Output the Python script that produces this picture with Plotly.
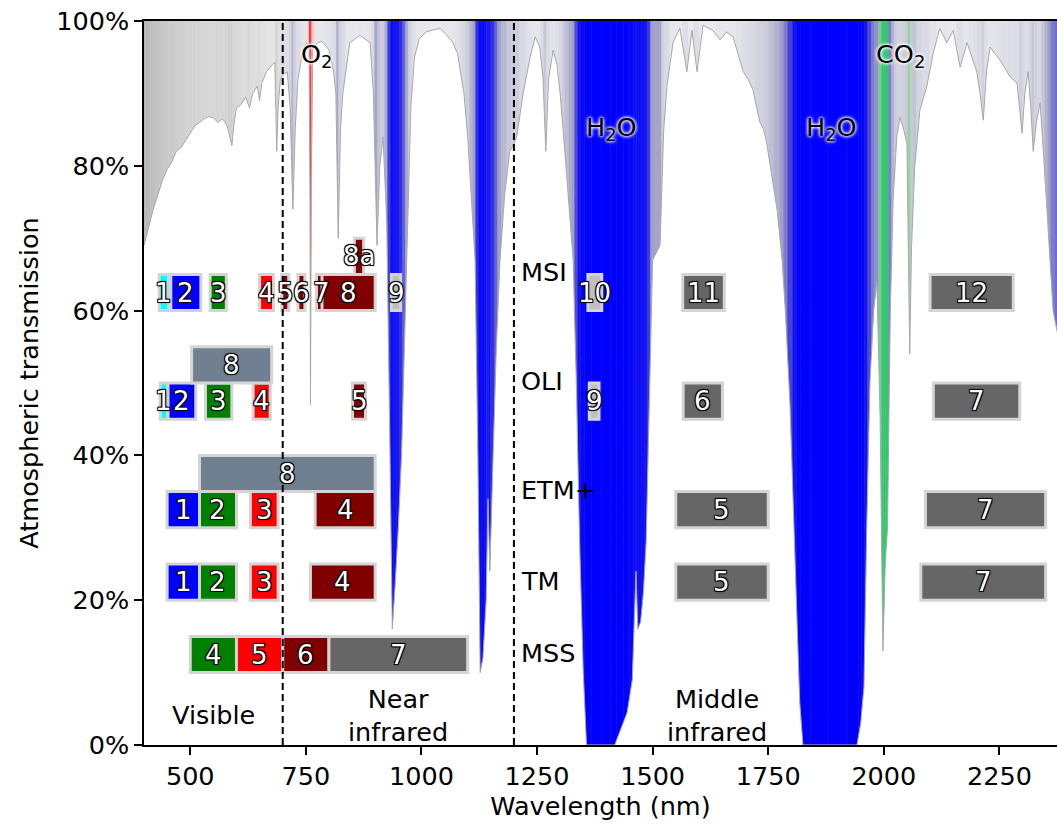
import plotly.graph_objects as go

# ---------------- data ----------------
WAVELENGTH = [400, 410, 420, 430, 440, 450, 460, 470, 480, 490, 500, 510, 520, 530, 540, 550, 560, 570, 580, 585,
              590, 595, 600, 610, 620, 628, 635, 645, 650, 655, 665, 675, 683, 687, 690, 695, 700, 710, 716, 722,
              727, 733, 744, 752, 757, 759, 760, 762, 765, 775, 785, 800, 810, 815, 820, 825, 830, 845, 867, 889,
              896, 904, 910, 917, 925, 931, 937, 943, 950, 957, 963, 970, 977, 985, 995, 1010, 1025, 1040, 1055, 1068,
              1078, 1085, 1092, 1100, 1108, 1116, 1122, 1127, 1133, 1140, 1144, 1148, 1155, 1162, 1170, 1180, 1191, 1200, 1206, 1220,
              1235, 1246, 1256, 1263, 1269, 1275, 1285, 1293, 1300, 1308, 1315, 1322, 1328, 1335, 1342, 1350, 1357, 1380, 1400, 1418,
              1430, 1445, 1456, 1464, 1468, 1474, 1480, 1486, 1492, 1500, 1516, 1524, 1531, 1544, 1559, 1574, 1585, 1596, 1609, 1630,
              1646, 1660, 1674, 1685, 1696, 1706, 1717, 1725, 1732, 1740, 1747, 1758, 1769, 1780, 1787, 1797, 1808, 1818, 1825, 1860,
              1900, 1942, 1950, 1957, 1963, 1970, 1978, 1985, 1992, 1998, 2003, 2008, 2014, 2020, 2028, 2035, 2043, 2050, 2056, 2060,
              2067, 2078, 2093, 2107, 2121, 2136, 2150, 2165, 2180, 2190, 2201, 2208, 2215, 2222, 2230, 2240, 2251, 2262, 2273, 2288,
              2299, 2305, 2312, 2318, 2323, 2330, 2338, 2345, 2353, 2359, 2366, 2375]
TRANSMISSION = [69.0, 71.5, 74.0, 76.0, 78.0, 79.5, 80.5, 82.0, 82.5, 83.5, 84.5, 85.5, 86.0, 86.5, 86.8, 86.6, 86.0, 86.5, 85.5, 84.0,
                82.8, 86.0, 88.0, 88.5, 89.5, 88.0, 90.0, 91.0, 89.0, 91.5, 93.0, 93.8, 94.3, 82.0, 88.0, 92.0, 92.5, 93.0, 88.0, 74.0,
                85.0, 92.0, 96.0, 97.0, 96.0, 75.0, 47.0, 78.0, 96.0, 97.0, 97.2, 96.0, 93.0, 90.0, 70.0, 85.0, 90.0, 97.0, 98.0, 97.0,
                90.0, 69.0, 80.0, 84.0, 72.0, 45.0, 16.0, 22.0, 30.0, 40.0, 55.0, 72.0, 88.0, 95.0, 97.5, 98.5, 98.8, 99.0, 98.0, 97.0,
                95.5, 93.0, 90.0, 84.0, 75.0, 67.0, 40.0, 10.0, 12.0, 20.0, 34.0, 24.0, 40.0, 55.0, 67.0, 76.0, 82.0, 83.0, 84.0, 90.0,
                95.0, 97.8, 96.4, 92.0, 82.0, 92.0, 96.0, 94.0, 90.0, 84.0, 78.0, 72.0, 67.0, 50.0, 28.0, 10.0, 0.0, 0.0, 0.0, 0.0,
                2.0, 4.5, 9.0, 24.0, 16.0, 17.0, 21.0, 28.0, 45.0, 67.0, 69.0, 85.0, 91.0, 97.0, 99.0, 93.0, 98.7, 93.0, 99.4, 98.7,
                97.4, 98.5, 97.8, 95.5, 93.0, 92.0, 90.5, 88.0, 86.0, 85.0, 83.0, 78.5, 74.0, 67.0, 60.0, 47.0, 27.0, 6.0, 0.0, 0.0,
                0.0, 0.0, 3.0, 8.0, 30.0, 50.0, 60.0, 64.0, 45.0, 13.0, 25.0, 30.0, 60.0, 75.0, 84.0, 86.7, 85.0, 83.0, 54.0, 69.0,
                80.0, 87.7, 91.0, 95.6, 99.0, 97.0, 98.7, 93.6, 97.0, 95.0, 93.0, 90.0, 86.3, 93.0, 96.4, 95.5, 94.6, 93.5, 92.3, 91.4,
                84.5, 90.0, 93.0, 88.0, 82.0, 86.0, 88.7, 82.0, 74.0, 67.0, 60.0, 57.0]

# absorbing species (wavelength ranges, nm)
O2_RANGE = (755, 766)
CO2_RANGES = [(1988, 2012), (2052, 2062)]
VISIBLE_END = 700

# sensor bands: label, start (nm), end (nm), raised tier (pan / 8a)
MSI_BANDS = ['1', '2', '3', '4', '5', '6', '7', '8', '8a', '9', '10', '11', '12']
MSI_START = [433, 458, 543, 650, 698, 733, 773, 785, 855, 935, 1360, 1565, 2100]
MSI_END = [453, 523, 578, 680, 713, 748, 793, 900, 875, 955, 1390, 1655, 2280]
MSI_TIER = [0, 0, 0, 0, 0, 0, 0, 0, 1, 0, 0, 0, 0]

OLI_BANDS = ['1', '2', '3', '4', '5', '6', '7', '8', '9']
OLI_START = [435, 452, 533, 636, 851, 1566, 2107, 503, 1363]
OLI_END = [451, 512, 590, 673, 879, 1651, 2294, 676, 1384]
OLI_TIER = [0, 0, 0, 0, 0, 0, 0, 1, 0]

ETM_BANDS = ['1', '2', '3', '4', '5', '7', '8']
ETM_START = [450, 520, 630, 770, 1550, 2090, 520]
ETM_END = [520, 600, 690, 900, 1750, 2350, 900]
ETM_TIER = [0, 0, 0, 0, 0, 0, 1]

TM_BANDS = ['1', '2', '3', '4', '5', '7']
TM_START = [450, 520, 630, 760, 1550, 2080]
TM_END = [520, 600, 690, 900, 1750, 2350]
TM_TIER = [0, 0, 0, 0, 0, 0]

MSS_BANDS = ['4', '5', '6', '7']
MSS_START = [500, 600, 700, 800]
MSS_END = [600, 700, 800, 1100]
MSS_TIER = [0, 0, 0, 0]

X_TICKS = [500, 750, 1000, 1250, 1500, 1750, 2000, 2250]
Y_TICKS = [0, 20, 40, 60, 80, 100]
Y_TICK_TEXT = ['0%', '20%', '40%', '60%', '80%', '100%']

# ---------------- styles ----------------
FONT = "DejaVu Sans"
FS = 25.5
BAND_COLORS = {
    'MSI': ['#00ffff', '#0000ff', '#008000', '#ff0000', '#800000', '#800000', '#800000', '#800000', '#800000',
            '#c0c0c0', '#c0c0c0', '#666666', '#666666'],
    'OLI': ['#00ffff', '#0000ff', '#008000', '#ff0000', '#800000', '#666666', '#666666', '#708090', '#c0c0c0'],
    'ETM+': ['#0000ff', '#008000', '#ff0000', '#800000', '#666666', '#666666', '#708090'],
    'TM': ['#0000ff', '#008000', '#ff0000', '#800000', '#666666', '#666666'],
    'MSS': ['#008000', '#ff0000', '#800000', '#666666'],
}
ROW_BASE = {'MSI': 60, 'OLI': 45, 'ETM+': 30, 'TM': 20, 'MSS': 10}
ROW_LABEL_Y = {'MSI': 65.3, 'OLI': 50.3, 'ETM+': 35.2, 'TM': 22.6, 'MSS': 12.7}
ROW_H = 5


def lerp_stops(stops, t):
    t = max(0.0, min(1.0, t))
    for (t0, c0), (t1, c1) in zip(stops[:-1], stops[1:]):
        if t <= t1:
            f = (t - t0) / (t1 - t0) if t1 > t0 else 0
            return tuple(int(round(a + (b - a) * f)) for a, b in zip(c0, c1))
    return stops[-1][1]


H2O_STOPS = [(0, (234, 234, 238)), (0.15, (208, 208, 222)), (0.33, (160, 160, 200)),
             (0.5, (75, 75, 215)), (0.7, (20, 20, 240)), (1.0, (0, 0, 255))]
CO2_STOPS = [(0, (234, 234, 238)), (0.3, (190, 210, 195)), (0.5, (150, 205, 165)),
             (0.7, (50, 200, 110)), (1.0, (46, 204, 113))]
O2_STOPS = [(0, (234, 234, 238)), (0.2, (255, 60, 60)), (1.0, (255, 0, 0))]


def column_color(w, tr):
    a = (100 - tr) / 100.0
    if O2_RANGE[0] <= w <= O2_RANGE[1]:
        c = lerp_stops(O2_STOPS, a)
    elif any(lo <= w <= hi for lo, hi in CO2_RANGES):
        c = lerp_stops(CO2_STOPS, a)
    elif w < VISIBLE_END:
        g = int(round(240 - 1.9 * (100 - tr)))
        c = (g, g, g)
    else:
        c = lerp_stops(H2O_STOPS, a)
    return 'rgb(%d,%d,%d)' % c


# column edges halfway between samples
edges = [WAVELENGTH[0] - 5]
for a, b in zip(WAVELENGTH[:-1], WAVELENGTH[1:]):
    edges.append((a + b) / 2.0)
edges.append(WAVELENGTH[-1] + 10)
col_x = [(edges[i] + edges[i + 1]) / 2 for i in range(len(WAVELENGTH))]
col_w = [edges[i + 1] - edges[i] for i in range(len(WAVELENGTH))]
col_c = [column_color(w, t) for w, t in zip(WAVELENGTH, TRANSMISSION)]

fig = go.Figure()
fig.add_trace(go.Bar(x=col_x, y=[100] * len(col_x), base=0, width=col_w,
                     marker=dict(color=col_c, line=dict(color=col_c, width=0.6)),
                     hoverinfo='skip', showlegend=False))
fig.add_trace(go.Scatter(x=WAVELENGTH, y=TRANSMISSION, mode='lines', fill='tozeroy',
                         fillcolor='white', line=dict(color='#a8a8a8', width=1),
                         hoverinfo='skip', showlegend=False))

OUTLINE = ("-1px -1px 0 #000, 1px -1px 0 #000, -1px 1px 0 #000, 1px 1px 0 #000, "
           "0 0 3px rgba(0,0,0,0.6)")
GLOW = "0 0 3px #fff, 0 0 3px #fff, 0 0 4px #fff"


def add_sensor(name, bands, starts, ends, tiers):
    base = ROW_BASE[name]
    for b, lo, hi, tier, col in zip(bands, starts, ends, tiers, BAND_COLORS[name]):
        y0 = base + ROW_H * tier
        fig.add_shape(type='rect', xref='x', yref='y', x0=lo, x1=hi, y0=y0, y1=y0 + ROW_H,
                      fillcolor=col, line=dict(color='#d4d4d4', width=3), layer='above')
    for b, lo, hi, tier in zip(bands, starts, ends, tiers):
        y0 = base + ROW_H * tier
        fig.add_annotation(x=(lo + hi) / 2, y=y0 + ROW_H / 2, text=b, showarrow=False,
                           xanchor='center', yanchor='middle',
                           font=dict(family=FONT, size=26, color='white', shadow=OUTLINE))
    fig.add_annotation(x=1210, y=ROW_LABEL_Y[name], text=name, showarrow=False,
                       xanchor='left', yanchor='middle', font=dict(family=FONT, size=FS, color='black'))


add_sensor('MSI', MSI_BANDS, MSI_START, MSI_END, MSI_TIER)
add_sensor('OLI', OLI_BANDS, OLI_START, OLI_END, OLI_TIER)
add_sensor('ETM+', ETM_BANDS, ETM_START, ETM_END, ETM_TIER)
add_sensor('TM', TM_BANDS, TM_START, TM_END, TM_TIER)
add_sensor('MSS', MSS_BANDS, MSS_START, MSS_END, MSS_TIER)

for xv in (700, 1200):
    fig.add_shape(type='line', xref='x', yref='y', x0=xv, x1=xv, y0=0, y1=100,
                  line=dict(color='black', width=2, dash='7px,4px'), layer='above')

for txt, xv, yv in [("O<sub>2</sub>", 772, 95.3), ("H<sub>2</sub>O", 1410, 85.2),
                    ("H<sub>2</sub>O", 1886, 85.2), ("CO<sub>2</sub>", 2035, 95.3)]:
    fig.add_annotation(x=xv, y=yv, text=txt, showarrow=False, xanchor='center', yanchor='middle',
                       font=dict(family=FONT, size=FS, color='black', shadow=GLOW))

for txt, xv, yv in [("Visible", 550, 4.1), ("Near<br>infrared", 949, 4.1),
                    ("Middle<br>infrared", 1639, 4.1)]:
    fig.add_annotation(x=xv, y=yv, text=txt, showarrow=False, xanchor='center', yanchor='middle',
                       align='center', font=dict(family=FONT, size=FS, color='black'))

fig.update_layout(
    width=1057, height=828,
    margin=dict(l=144, r=0, t=21, b=83),
    plot_bgcolor='white', paper_bgcolor='white',
    font=dict(family=FONT, size=FS, color='black'),
    bargap=0, barmode='overlay', showlegend=False,
    xaxis=dict(range=[400, 2374.5], tickmode='array', tickvals=X_TICKS, ticks='outside', ticklen=8,
               tickwidth=1.5, tickcolor='black', showline=True, linecolor='black', linewidth=1.5,
               mirror=True, showgrid=False, zeroline=False,
               title=dict(text='Wavelength (nm)', standoff=4, font=dict(size=FS)),
               tickfont=dict(size=FS)),
    yaxis=dict(range=[0, 100], tickmode='array', tickvals=Y_TICKS, ticktext=Y_TICK_TEXT,
               ticks='outside', ticklen=8, tickwidth=1.5, tickcolor='black', showline=True,
               linecolor='black', linewidth=1.5, showgrid=False, zeroline=False,
               title=dict(text='Atmospheric transmission', standoff=10, font=dict(size=FS)),
               tickfont=dict(size=FS)),
)

fig.write_html("out.html")
